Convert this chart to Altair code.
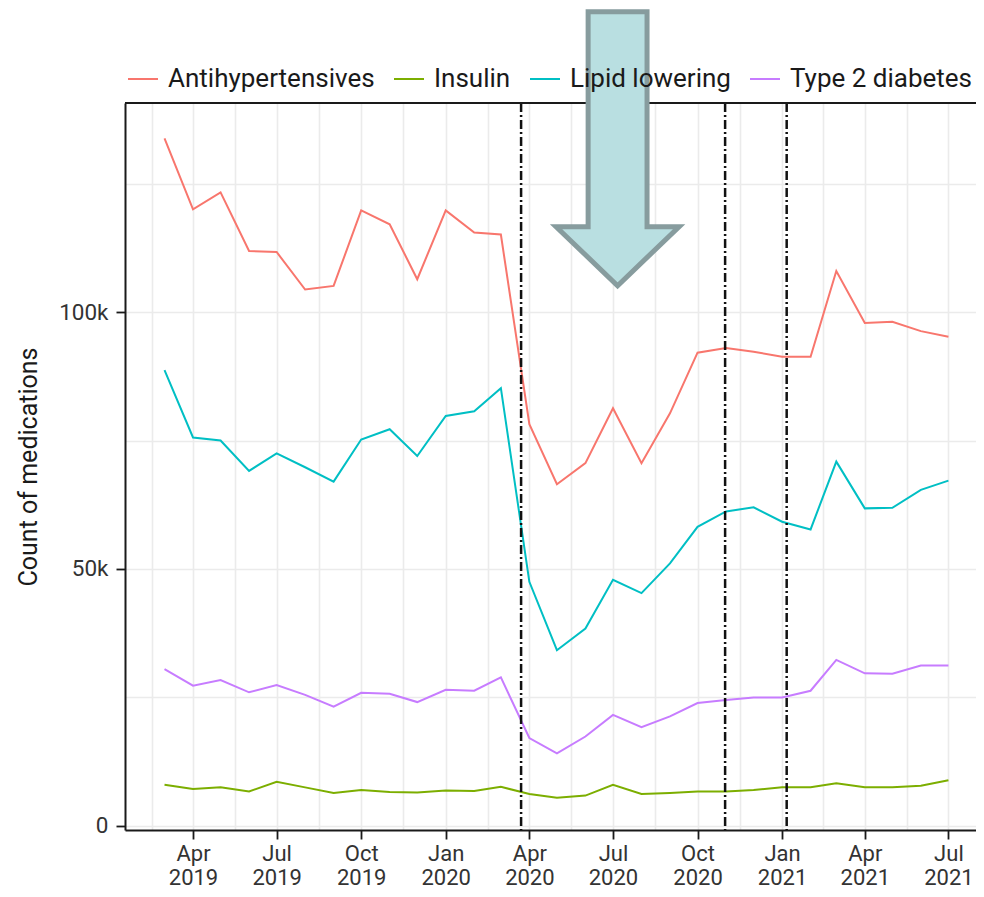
import altair as alt
import pandas as pd

FONT = "Roboto"

# ---- data (in thousands) ----
months = [d.strftime("%Y-%m-%d") for d in pd.date_range("2019-03-01", "2021-07-01", freq="MS")]
categories = ["Antihypertensives", "Insulin", "Lipid lowering", "Type 2 diabetes"]
colors = ["#F8766D", "#7CAE00", "#00BFC4", "#C77CFF"]

antihypertensives = [133.8, 120.0, 123.3, 111.9, 111.7, 104.4, 105.1, 119.8, 117.1, 106.4,
                     119.8, 115.5, 115.1, 78.2, 66.5, 70.6, 81.3, 70.6, 80.3, 92.1, 93.0, 92.3,
                     91.3, 91.3, 108.0, 97.9, 98.1, 96.3, 95.2]
insulin = [8.0, 7.2, 7.5, 6.7, 8.6, 7.5, 6.4, 7.0, 6.6, 6.5,
           6.9, 6.8, 7.6, 6.2, 5.5, 5.9, 8.0, 6.2, 6.4, 6.7, 6.7, 7.0,
           7.5, 7.5, 8.3, 7.5, 7.5, 7.8, 8.9]
lipid_lowering = [88.7, 75.6, 75.0, 69.1, 72.5, 69.8, 67.0, 75.2, 77.2, 72.0,
                  79.8, 80.7, 85.2, 47.5, 34.2, 38.4, 47.9, 45.3, 51.1, 58.2, 61.2, 62.0,
                  59.2, 57.7, 70.9, 61.8, 61.9, 65.4, 67.2]
type2_diabetes = [30.5, 27.3, 28.4, 26.0, 27.4, 25.5, 23.2, 25.9, 25.7, 24.1,
                  26.5, 26.3, 28.9, 17.1, 14.1, 17.4, 21.6, 19.2, 21.3, 23.9, 24.5, 25.0,
                  25.0, 26.3, 32.3, 29.7, 29.6, 31.2, 31.2]

lockdown_dates = ["2020-03-23", "2020-10-31", "2021-01-06"]
arrow_date = ["2020-07-06"]
arrow_value = [131800]

y_ticks = [0, 25000, 50000, 75000, 100000, 125000]

# ---- tables ----
series = {
    "Antihypertensives": antihypertensives,
    "Insulin": insulin,
    "Lipid lowering": lipid_lowering,
    "Type 2 diabetes": type2_diabetes,
}
rows = []
for name, vals in series.items():
    for m, v in zip(months, vals):
        rows.append({"date": m, "series": name, "count": v * 1000})
df = pd.DataFrame(rows)

lock_df = pd.DataFrame({"date": lockdown_dates})
arrow_df = pd.DataFrame({"date": arrow_date, "count": arrow_value})

# x domain (ggplot-like expansion on the left, cut at the page edge on the right)
x_lo = pd.Timestamp("2019-01-17")
x_hi = pd.Timestamp("2021-07-31")
majors = list(pd.date_range("2019-01-01", "2021-10-01", freq="QS"))
minors = [a + (b - a) / 2 for a, b in zip(majors[:-1], majors[1:])]
def ms(t):
    return int(t.value // 1_000_000)
x_values = sorted(ms(t) for t in majors + minors if x_lo <= t <= x_hi)

W = 851
H = 727

x_scale = alt.Scale(type="utc", domain=[ms(x_lo), ms(x_hi)], nice=False)
y_scale = alt.Scale(domain=[-800, 140700], nice=False, zero=False)

x_axis = alt.Axis(
    values=x_values,
    labelExpr="utcdate(datum.value) === 1 ? [utcFormat(datum.value, '%b'), utcFormat(datum.value, '%Y')] : ''",
    tickOpacity={"condition": {"test": "utcdate(datum.value) === 1", "value": 1}, "value": 0},
    title=None,
    grid=True,
    gridColor="#EBEBEB",
    gridWidth=1.6,
    domainColor="#1a1a1a",
    domainWidth=2,
    tickColor="#1a1a1a",
    tickWidth=1.8,
    tickSize=9,
    labelFont=FONT,
    labelFontSize=22,
    labelColor="#333333",
    labelAlign="center",
    labelBaseline="top",
    labelLineHeight=24,
    labelPadding=4,
    labelOverlap=False,
    labelFlush=False,
)

y_axis = alt.Axis(
    values=y_ticks,
    labelExpr="datum.value % 50000 === 0 ? (datum.value === 0 ? '0' : (datum.value / 1000) + 'k') : ''",
    tickOpacity={"condition": {"test": "datum.value % 50000 === 0", "value": 1}, "value": 0},
    title="Count of medications",
    titleFont=FONT,
    titleFontSize=25,
    titleFontWeight="normal",
    titleColor="#1a1a1a",
    titleX=-97,
    titleBaseline="middle",
    grid=True,
    gridColor="#EBEBEB",
    gridWidth=1.6,
    domainColor="#1a1a1a",
    domainWidth=2,
    tickColor="#1a1a1a",
    tickWidth=1.8,
    tickSize=9,
    labelFont=FONT,
    labelFontSize=22.5,
    labelColor="#333333",
    labelPadding=8,
)

lines = alt.Chart(df).mark_line(strokeWidth=2).encode(
    x=alt.X("date:T", scale=x_scale, axis=x_axis),
    y=alt.Y("count:Q", scale=y_scale, axis=y_axis),
    color=alt.Color(
        "series:N",
        scale=alt.Scale(domain=categories, range=colors),
        legend=alt.Legend(
            orient="none",
            legendX=2,
            legendY=-40,
            direction="horizontal",
            columns=4,
            title=None,
            symbolType="stroke",
            symbolSize=900,
            symbolStrokeWidth=2,
            labelFont=FONT,
            labelFontSize=26,
            labelColor="#1a1a1a",
            labelLimit=500,
            labelOffset=9,
            columnPadding=15,
            padding=0,
        ),
    ),
    detail="series:N",
)

vlines = alt.Chart(lock_df).mark_rule(
    color="#111111", strokeWidth=2.5, strokeDash=[9, 3, 2, 3]
).encode(x="date:T")

top_border = alt.Chart(lock_df).mark_rule(color="#1a1a1a", strokeWidth=2).encode(
    y=alt.value(0), x=alt.value(0), x2=alt.value(W)
)

ARROW = "M -0.215 -1 L 0.215 -1 L 0.215 0.569 L 0.449 0.569 L 0 1 L -0.449 0.569 L -0.215 0.569 Z"
arrow = alt.Chart(arrow_df).mark_point(
    shape=ARROW, size=75076, filled=True, fill="#B9DFE1", stroke="#879C9E",
    strokeWidth=5, opacity=1, fillOpacity=1, strokeOpacity=1, strokeJoin="miter"
).encode(x="date:T", y="count:Q")

chart = alt.layer(lines, vlines, top_border, arrow).properties(
    width=W, height=H,
    padding={"left": 117, "top": 95, "right": 0, "bottom": 59},
    autosize=alt.AutoSizeParams(type="none"),
    background="white",
).configure_view(stroke=None)

chart.save("out.html", embed_options={"renderer": "svg", "actions": False})
